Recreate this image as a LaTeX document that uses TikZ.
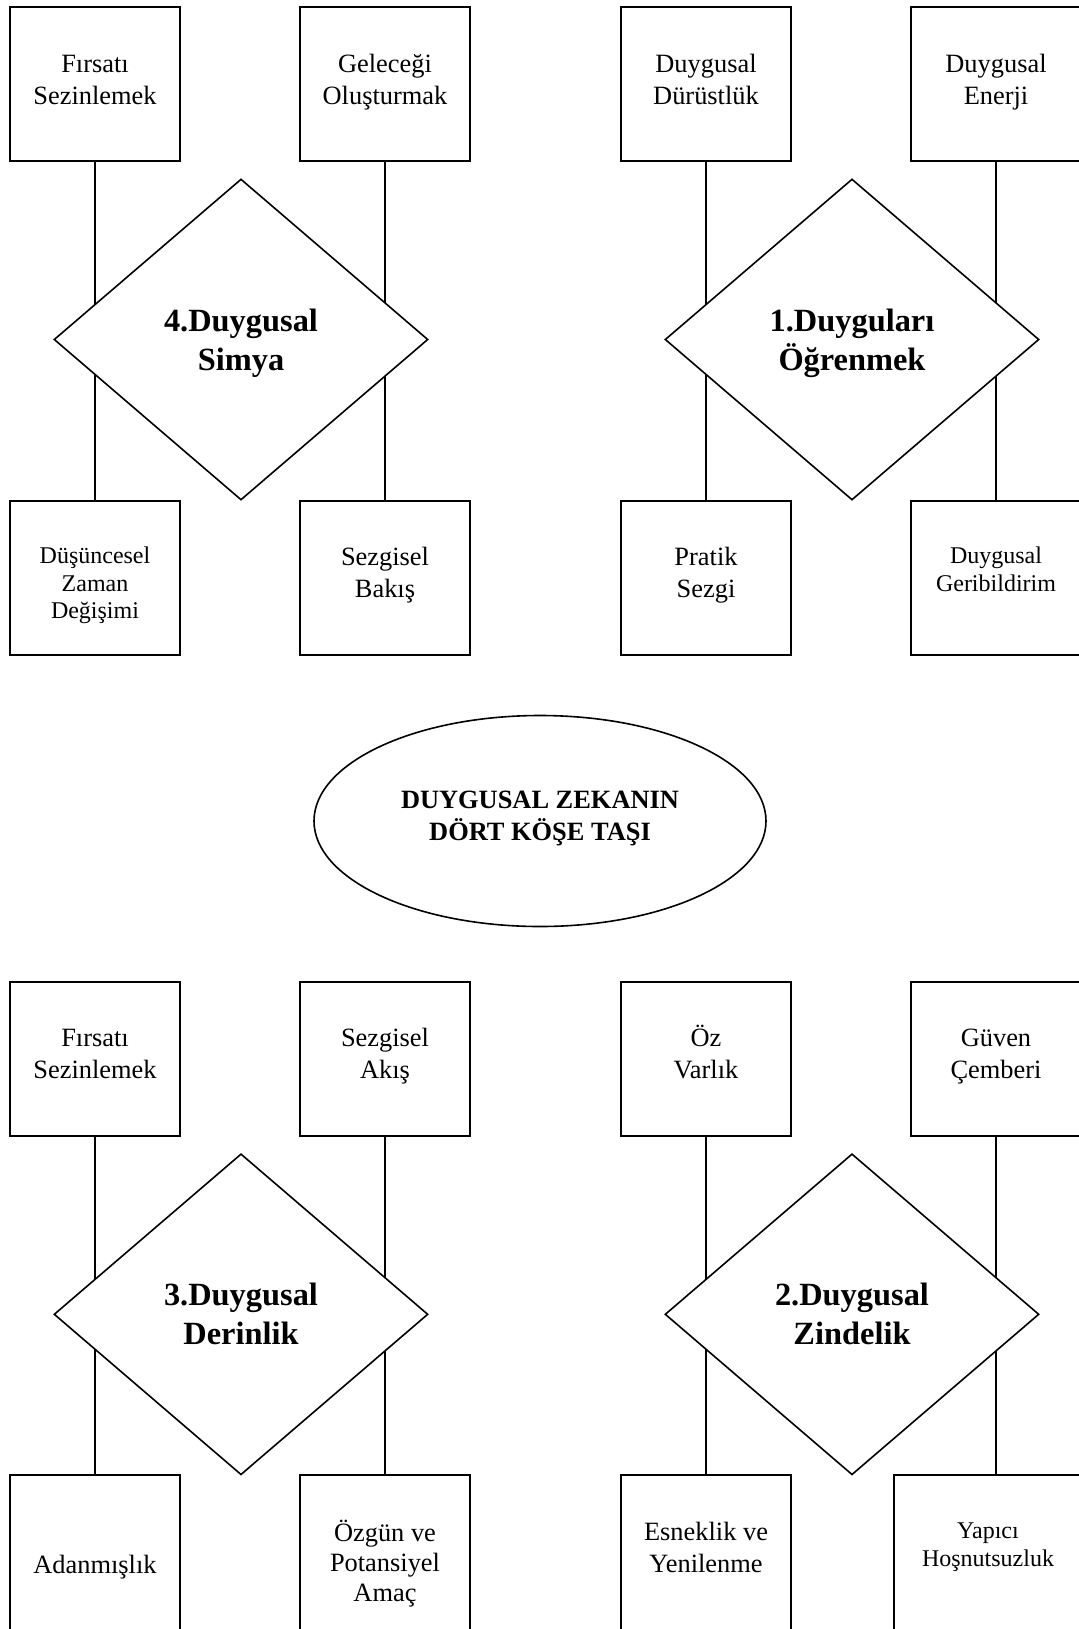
\documentclass[tikz,border=0pt]{standalone}
\usepackage{fontspec}
\setmainfont{Liberation Serif}
\usetikzlibrary{shapes.geometric}

\tikzset{
  % last text baseline placed #1 (in pt) below the node centre
  lastbase/.style={text height=#1, text depth=0pt},
  box/.style={draw, line width=0.9pt, rectangle, fill=white,
    minimum width=85pt, minimum height=77.2pt, inner sep=0pt,
    align=center, font=\fontsize{13.2}{16}\selectfont, lastbase=20pt},
  smallbox/.style={box, font=\fontsize{12}{13.8}\selectfont},
  core/.style={draw, diamond, line width=0.8pt, fill=white,
    minimum width=187pt, minimum height=160.5pt, aspect=1.165,
    inner sep=0pt, align=center, lastbase=30.5pt,
    font=\fontsize{16.2}{19.5}\selectfont\bfseries},
  hub/.style={draw, ellipse, line width=0.8pt, fill=white,
    minimum width=226pt, minimum height=105.5pt, inner sep=0pt,
    align=center, lastbase=19.3pt,
    font=\fontsize{13.2}{16}\selectfont\bfseries},
  link/.style={line width=0.8pt}
}

\begin{document}
\begin{tikzpicture}[x=0.5pt, y=-0.5pt]
  \useasboundingbox (0,0) rectangle (1079,1629);
  \clip (0,0) rectangle (1079,1629);

  % ---- 4. Duygusal Simya (upper left)
  \node[box]      (a1) at (95,84.1)   {Fırsatı\\Sezinlemek};
  \node[box]      (a2) at (385,84.1)  {Geleceği\\Oluşturmak};
  \node[smallbox, lastbase=41pt]
                  (a3) at (95,577.9)  {Düşüncesel\\Zaman\\Değişimi};
  \node[box]      (a4) at (385,577.9) {Sezgisel\\Bakış};

  % ---- 1. Duyguları Öğrenmek (upper right)
  \node[box]      (b1) at (706,84.1)  {Duygusal\\Dürüstlük};
  \node[box]      (b2) at (996,84.1)  {Duygusal\\Enerji};
  \node[box]      (b3) at (706,577.9) {Pratik\\Sezgi};
  \node[smallbox, lastbase=13.5pt]
                  (b4) at (996,577.9) {Duygusal\\Geribildirim};

  % ---- 3. Duygusal Derinlik (lower left)
  \node[box]      (c1) at (95,1058.8)  {Fırsatı\\Sezinlemek};
  \node[box]      (c2) at (385,1058.8) {Sezgisel\\Akış};
  \node[box, lastbase=20.5pt]
                  (c3) at (95,1552.5)  {Adanmışlık};
  \node[box, font=\fontsize{13.2}{15}\selectfont, lastbase=49pt]
                  (c4) at (385,1552.5) {Özgün ve\\Potansiyel\\Amaç};

  % ---- 2. Duygusal Zindelik (lower right)
  \node[box]      (e1) at (706,1058.8) {Öz\\Varlık};
  \node[box]      (e2) at (996,1058.8) {Güven\\Çemberi};
  \node[box]      (e3) at (706,1552.5) {Esneklik ve\\Yenilenme};
  \node[smallbox, minimum width=94pt, lastbase=14pt]
                  (e4) at (988,1552.5) {Yapıcı\\Hoşnutsuzluk};

  % vertical links, passing behind the diamonds
  \draw[link] (a1.south) -- (a3.north);
  \draw[link] (a2.south) -- (a4.north);
  \draw[link] (b1.south) -- (b3.north);
  \draw[link] (b2.south) -- (b4.north);
  \draw[link] (c1.south) -- (c3.north);
  \draw[link] (c2.south) -- (c4.north);
  \draw[link] (e1.south) -- (e3.north);
  \draw[link] (e2.south) -- (e2.south |- e4.north);

  % the four cornerstones
  \node[core] (d4) at (241,339.5)  {4.Duygusal\\Simya};
  \node[core] (d1) at (852,339.5)  {1.Duyguları\\Öğrenmek};
  \node[core] (d3) at (241,1314.3) {3.Duygusal\\Derinlik};
  \node[core] (d2) at (852,1314.3) {2.Duygusal\\Zindelik};

  % title in the middle
  \node[hub] (hub) at (540,821) {DUYGUSAL ZEKANIN\\DÖRT KÖŞE TAŞI};
\end{tikzpicture}
\end{document}
